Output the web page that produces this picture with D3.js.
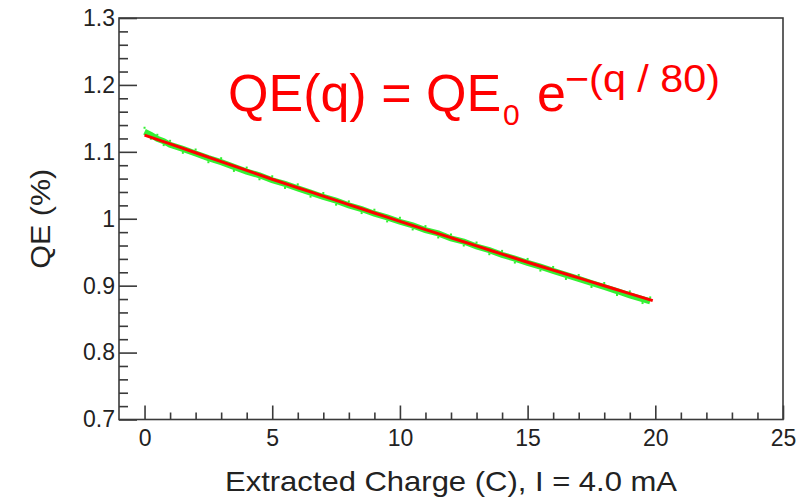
<!DOCTYPE html>
<html>
<head>
<meta charset="utf-8">
<script src="https://cdn.jsdelivr.net/npm/d3@7"></script>
<style>
  body { margin: 0; background: #fff; }
  text { font-family: "Liberation Sans", Arial, sans-serif; }
</style>
</head>
<body>
<div id="app"></div>
<script>
// fit curve (charge in C, QE in %)
var fitCharge = [0, 1, 2, 3, 4, 5, 6, 7, 8, 9, 10, 11, 12, 13, 14, 15, 16, 17, 18, 19, 19.9];
var fitQE = [1.125, 1.1118, 1.0986, 1.0854, 1.0722, 1.059, 1.0464, 1.0338, 1.0212, 1.0086, 0.996,
             0.9838, 0.9716, 0.9594, 0.9472, 0.935, 0.9233, 0.9116, 0.8999, 0.8882, 0.8776];

// measured points (green)
var dataCharge = [0, 0.25, 0.5, 0.75, 1, 1.5, 2, 2.5, 3, 3.5, 4, 4.5, 5, 5.5, 6, 6.5, 7, 7.5, 8, 8.5, 9, 9.5,
                  10, 10.5, 11, 11.5, 12, 12.5, 13, 13.5, 14, 14.5, 15, 15.5, 16, 16.5, 17, 17.5, 18, 18.5, 19, 19.5, 19.8];
var dataQE = [1.130, 1.1255, 1.1195, 1.116, 1.1105, 1.1045, 1.0975, 1.0905, 1.0845, 1.0775, 1.0705, 1.065, 1.0575, 1.052,
              1.0455, 1.039, 1.0325, 1.027, 1.020, 1.0145, 1.0075, 1.002, 0.9955, 0.990, 0.983, 0.978,
              0.9705, 0.966, 0.9585, 0.953, 0.946, 0.9405, 0.934, 0.9285, 0.922, 0.916, 0.910, 0.904,
              0.898, 0.892, 0.8855, 0.880, 0.8765];

var xMajor = [0, 5, 10, 15, 20, 25];
var xMajorLabels = ['0', '5', '10', '15', '20', '25'];
var xMinor = [1, 2, 3, 4, 6, 7, 8, 9, 11, 12, 13, 14, 16, 17, 18, 19, 21, 22, 23, 24];
var yMajor = [0.7, 0.8, 0.9, 1.0, 1.1, 1.2, 1.3];
var yMajorLabels = ['0.7', '0.8', '0.9', '1', '1.1', '1.2', '1.3'];
var yMinor = [0.72, 0.74, 0.76, 0.78, 0.82, 0.84, 0.86, 0.88, 0.92, 0.94, 0.96, 0.98,
              1.02, 1.04, 1.06, 1.08, 1.12, 1.14, 1.16, 1.18, 1.22, 1.24, 1.26, 1.28];

var W = 802, H = 499;
var L = 119, R = 783, T = 18, B = 419.5;
var axisColor = '#3a3a3a';

var svg = d3.select('#app')
  .append('svg')
    .attr('width', W)
    .attr('height', H);

var x = d3.scaleLinear().domain([-1, 25]).range([L, R]);
var y = d3.scaleLinear().domain([0.7, 1.3]).range([B, T]);

// frame
svg.append('rect')
    .attr('x', L).attr('y', T)
    .attr('width', R - L).attr('height', B - T)
    .attr('fill', 'none')
    .attr('stroke', axisColor)
    .attr('stroke-width', 1.6);

// axes (ticks inside the frame)
svg.append('g')
    .attr('transform', 'translate(' + L + ',0)')
    .call(d3.axisLeft(y).tickValues(yMajor).tickSize(-18).tickPadding(4)
      .tickFormat(function(d, i) { return yMajorLabels[i]; }));
svg.append('g')
    .attr('transform', 'translate(' + L + ',0)')
    .call(d3.axisLeft(y).tickValues(yMinor).tickSize(-9).tickFormat(''));

svg.append('g')
    .attr('transform', 'translate(0,' + B + ')')
    .call(d3.axisBottom(x).tickValues(xMajor).tickSize(-14).tickPadding(10)
      .tickFormat(function(d, i) { return xMajorLabels[i]; }));
svg.append('g')
    .attr('transform', 'translate(0,' + B + ')')
    .call(d3.axisBottom(x).tickValues(xMinor).tickSize(-7).tickFormat(''));

svg.selectAll('.domain').remove();
svg.selectAll('.tick line').attr('stroke', axisColor).attr('stroke-width', 1.6);
svg.selectAll('.tick text')
    .attr('font-family', '"Liberation Sans", Arial, sans-serif')
    .attr('font-size', 23)
    .attr('fill', '#222');

// measured data
var line = d3.line()
    .x(function(d) { return x(d[0]); })
    .y(function(d) { return y(d[1]); });

var pts = dataCharge.map(function(c, i) { return [c, dataQE[i]]; });
svg.append('path')
    .datum(pts)
    .attr('d', line)
    .attr('fill', 'none')
    .attr('stroke', '#33f033')
    .attr('stroke-width', 6);
svg.selectAll('rect.pt')
    .data(pts)
  .enter().append('rect')
    .attr('class', 'pt')
    .attr('x', function(d) { return x(d[0]) - 1; })
    .attr('y', function(d, i) { return y(d[1]) + (i % 2 ? 3 : -5); })
    .attr('width', 2)
    .attr('height', 2)
    .attr('fill', '#33f033');

// fit
svg.append('path')
    .datum(fitCharge.map(function(c, i) { return [c, fitQE[i]]; }))
    .attr('d', line.curve(d3.curveMonotoneX))
    .attr('fill', 'none')
    .attr('stroke', '#ff0000')
    .attr('stroke-width', 3);

// axis titles
svg.append('text')
    .attr('x', (L + R) / 2)
    .attr('y', 491)
    .attr('text-anchor', 'middle')
    .attr('font-size', 28)
    .attr('textLength', 452)
    .attr('lengthAdjust', 'spacingAndGlyphs')
    .attr('fill', '#222')
    .text('Extracted Charge (C), I = 4.0 mA');

svg.append('text')
    .attr('transform', 'translate(50,' + (T + B) / 2 + ') rotate(-90)')
    .attr('text-anchor', 'middle')
    .attr('font-size', 28)
    .attr('textLength', 100)
    .attr('lengthAdjust', 'spacingAndGlyphs')
    .attr('fill', '#222')
    .text('QE (%)');

// formula
var red = '#ff0000';
svg.append('text')
    .attr('x', 228).attr('y', 111)
    .attr('font-size', 52)
    .attr('fill', red)
    .text('QE(q) = QE');
svg.append('text')
    .attr('x', 503).attr('y', 125)
    .attr('font-size', 30)
    .attr('fill', red)
    .text('0');
svg.append('text')
    .attr('x', 537).attr('y', 111)
    .attr('font-size', 52)
    .attr('fill', red)
    .text('e');
svg.append('text')
    .attr('x', 565).attr('y', 92)
    .attr('font-size', 38)
    .attr('textLength', 155)
    .attr('lengthAdjust', 'spacingAndGlyphs')
    .attr('fill', red)
    .text('\u2212(q / 80)');
</script>
</body>
</html>
